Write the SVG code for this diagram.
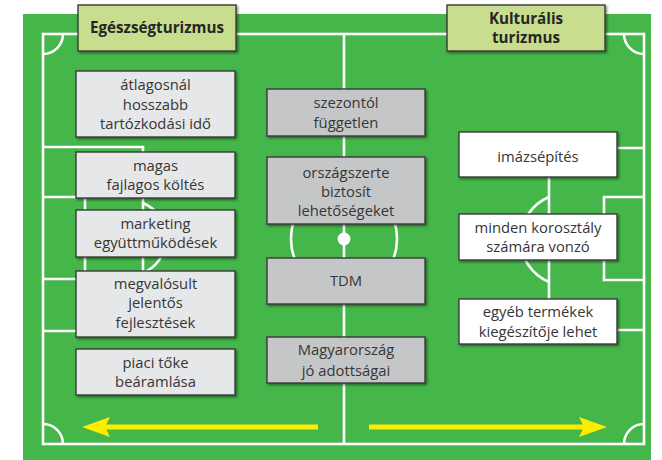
<svg xmlns="http://www.w3.org/2000/svg" width="662" height="460" viewBox="0 0 662 460">
<defs>
<style>
.ln{fill:none;stroke:#ffffff;stroke-width:2.6}
.box{stroke:#3a3a3a;stroke-width:1.4;filter:url(#sh)}
.l{fill:#e6e7e8}
.c{fill:#c5c6c8}
.r{fill:#ffffff}
.h{fill:#c9dd8e}
text{font-family:"Open Sans","Noto Sans","Liberation Sans",sans-serif;font-size:14.8px;fill:#363636;text-anchor:middle}
.hd{font-weight:bold;font-size:15.2px;fill:#262626}
.yl{stroke:#ffed00;stroke-width:5;fill:none}
.yh{fill:#ffed00}
</style>
<filter id="sh" x="-10%" y="-10%" width="130%" height="130%">
<feDropShadow dx="1.5" dy="1.5" stdDeviation="1" flood-color="#000" flood-opacity="0.45"/>
</filter>
</defs>
<rect x="0" y="0" width="662" height="460" fill="#ffffff"/>
<rect x="23" y="14" width="628" height="446" fill="#45b649"/>
<g id="field">
<rect class="ln" x="43" y="34" width="601" height="410"/>
<line class="ln" x1="344" y1="34" x2="344" y2="444"/>
<circle class="ln" cx="344" cy="239" r="53"/>
<circle cx="344" cy="239" r="6.5" fill="#ffffff"/>
<path class="ln" d="M43,147 H143 V331 H43"/>
<path class="ln" d="M43,197 H85 V279 H43"/>
<path class="ln" d="M143,203 A38 38 0 0 1 143,273"/>
<path class="ln" d="M644,148 H549 V330 H644"/>
<path class="ln" d="M644,197 H604 V280 H644"/>
<path class="ln" d="M549,197 A46 46 0 0 0 549,282"/>
<path class="ln" d="M43,54 A20 20 0 0 0 63,34"/>
<path class="ln" d="M624,34 A20 20 0 0 0 644,54"/>
<path class="ln" d="M644,424 A20 20 0 0 0 624,444"/>
<path class="ln" d="M63,444 A20 20 0 0 0 43,424"/>
</g>
<g id="connectors">
<line class="yl" x1="318" y1="427" x2="104" y2="427"/>
<polygon class="yh" points="82,427 110,417 105,427 110,437"/>
<line class="yl" x1="369" y1="427" x2="585" y2="427"/>
<polygon class="yh" points="607,427 579,417 584,427 579,437"/>
</g>
<g id="h1"><rect class="box h" x="78" y="5" width="158" height="46"/><text class="hd" x="157" y="33">Egészségturizmus</text></g>
<g id="h2"><rect class="box h" x="447" y="5" width="158" height="46"/><text class="hd" x="526" y="24">Kulturális</text><text class="hd" x="526" y="43">turizmus</text></g>
<g id="l1"><rect class="box l" x="76" y="71" width="159" height="66"/><text x="155.5" y="90">átlagosnál</text><text x="155.5" y="109.5">hosszabb</text><text x="155.5" y="129">tartózkodási idő</text></g>
<g id="l2"><rect class="box l" x="76" y="152" width="159" height="46"/><text x="155.5" y="171">magas</text><text x="155.5" y="190">fajlagos költés</text></g>
<g id="l3"><rect class="box l" x="76" y="210" width="159" height="47"/><text x="155.5" y="229">marketing</text><text x="155.5" y="248">együttműködések</text></g>
<g id="l4"><rect class="box l" x="76" y="271" width="159" height="66"/><text x="155.5" y="289">megvalósult</text><text x="155.5" y="308">jelentős</text><text x="155.5" y="328">fejlesztések</text></g>
<g id="l5"><rect class="box l" x="76" y="349" width="159" height="46"/><text x="155.5" y="368">piaci tőke</text><text x="155.5" y="387">beáramlása</text></g>
<g id="c1"><rect class="box c" x="267" y="89" width="158" height="47"/><text x="346" y="108">szezontól</text><text x="346" y="128">független</text></g>
<g id="c2"><rect class="box c" x="267" y="157" width="158" height="67"/><text x="346" y="178">országszerte</text><text x="346" y="197">biztosít</text><text x="346" y="216">lehetőségeket</text></g>
<g id="c3"><rect class="box c" x="267" y="258" width="158" height="46"/><text x="346" y="286">TDM</text></g>
<g id="c4"><rect class="box c" x="267" y="337" width="158" height="46"/><text x="346" y="355">Magyarország</text><text x="346" y="375.5">jó adottságai</text></g>
<g id="r1"><rect class="box r" x="459" y="132" width="158" height="45"/><text x="538" y="162">imázsépítés</text></g>
<g id="r2"><rect class="box r" x="459" y="214" width="158" height="46"/><text x="538" y="233">minden korosztály</text><text x="538" y="252">számára vonzó</text></g>
<g id="r3"><rect class="box r" x="459" y="299" width="158" height="45"/><text x="538" y="317">egyéb termékek</text><text x="538" y="337">kiegészítője lehet</text></g>
</svg>
